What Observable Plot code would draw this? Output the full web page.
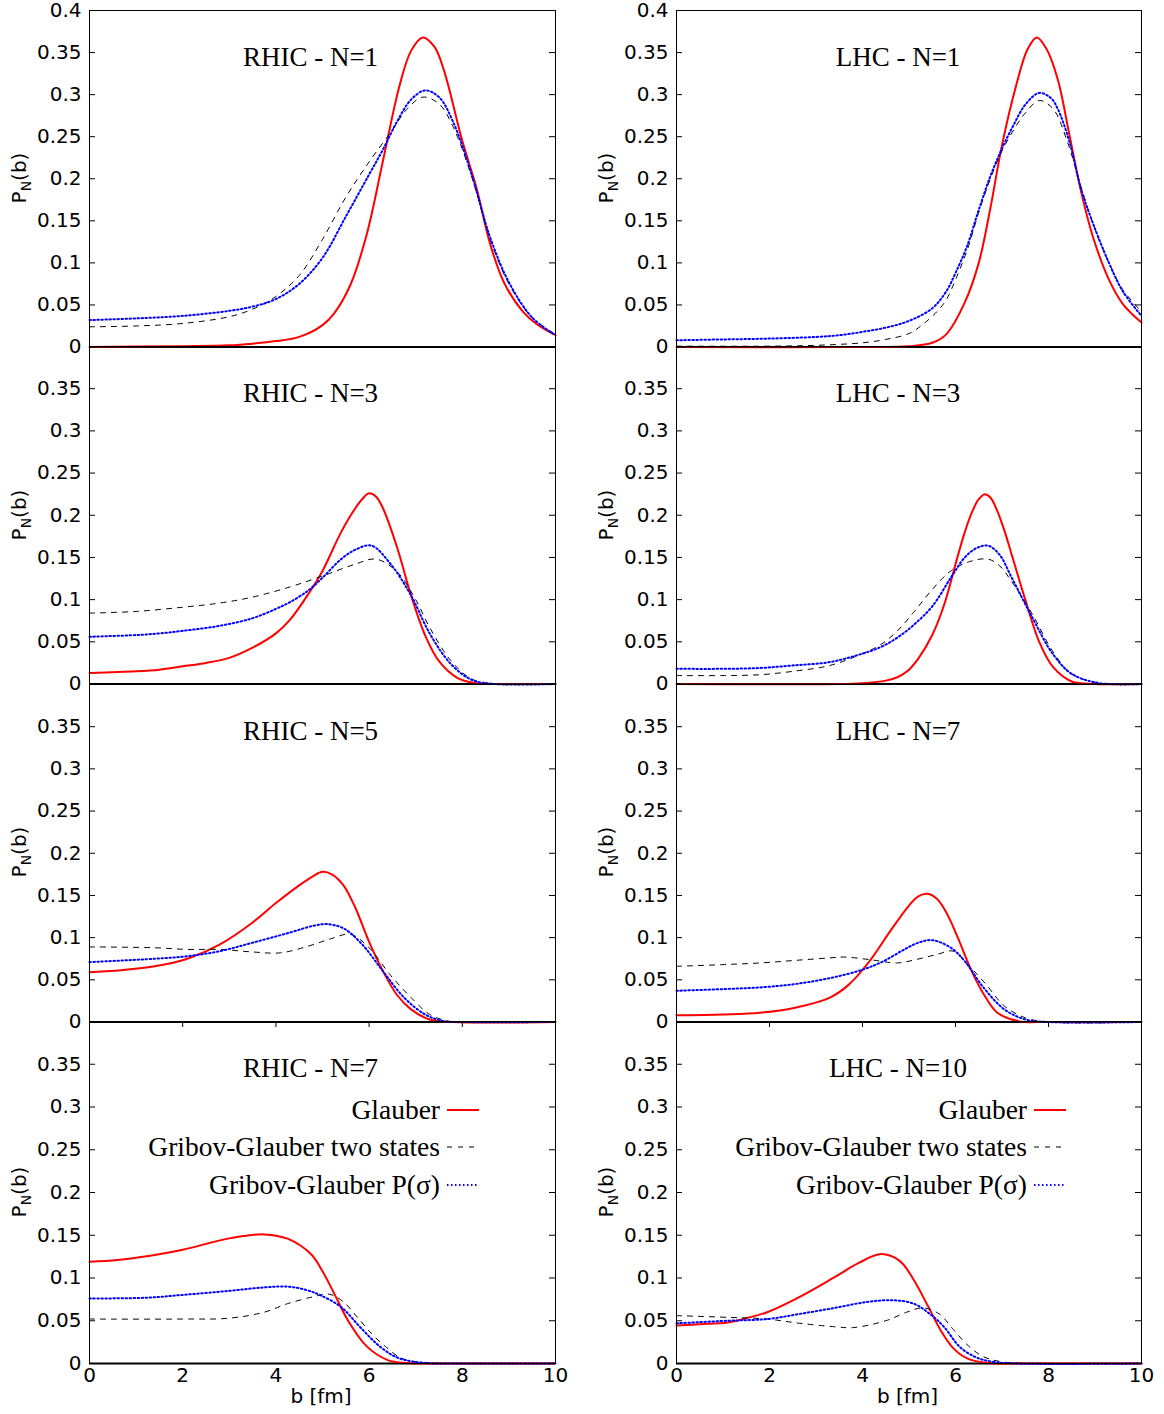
<!DOCTYPE html>
<html>
<head>
<meta charset="utf-8">
<script src="https://cdn.jsdelivr.net/npm/d3@7"></script>
<script src="https://cdn.jsdelivr.net/npm/@observablehq/plot@0.6"></script>
<style>
  body { margin: 0; background: #fff; }
  #chart { position: relative; width: 1164px; height: 1414px; overflow: hidden; background: #fff; }
  .panel { position: absolute; }
  .ylab { position: absolute; font-family: "DejaVu Sans", sans-serif; font-size: 20px; color: #000;
          transform: translate(-50%, -50%) rotate(-90deg); white-space: nowrap; line-height: 1; }
  .ylab sub { font-size: 14px; vertical-align: -5px; }
  .xlab { position: absolute; font-family: "DejaVu Sans", sans-serif; font-size: 20px; color: #000;
          transform: translate(-50%, -50%); white-space: nowrap; line-height: 1; }
  .leg { position: absolute; font-family: "Liberation Serif", serif; font-size: 27.5px; color: #000;
         white-space: nowrap; line-height: 1; transform: translate(-100%, -50%); }
  .legsw { position: absolute; transform: translateY(-50%); }
</style>
</head>
<body>
<div id="chart"></div>
<script>
// ---------------- data: [b (fm), P_N(b)] ----------------
const rhic1_glauber = [[0,0],[1,0.0005],[2,0.001],[3,0.002],[3.5,0.004],[4,0.007],[4.5,0.012],[5,0.026],[5.25,0.04],[5.6,0.074],[5.95,0.134],[6.3,0.222],[6.65,0.31],[6.9,0.352],[7.15,0.368],[7.4,0.357],[7.6,0.33],[8,0.245],[8.3,0.19],[8.6,0.122],[8.9,0.076],[9.3,0.042],[9.6,0.027],[10,0.014]];
const rhic1_two = [[0,0.024],[1,0.025],[2,0.028],[3,0.036],[3.5,0.045],[4,0.06],[4.5,0.085],[5,0.128],[5.5,0.178],[6,0.22],[6.5,0.258],[6.8,0.282],[7.15,0.297],[7.5,0.289],[7.8,0.262],[8.2,0.203],[8.6,0.128],[9,0.075],[9.5,0.035],[10,0.015]];
const rhic1_psig = [[0,0.032],[1,0.034],[2,0.037],[3,0.043],[3.5,0.048],[4,0.057],[4.5,0.075],[5,0.106],[5.5,0.155],[6,0.205],[6.3,0.235],[6.6,0.268],[6.9,0.294],[7.2,0.305],[7.5,0.297],[7.8,0.268],[8.2,0.205],[8.6,0.13],[9,0.077],[9.5,0.035],[10,0.014]];

const lhc1_glauber = [[0,0],[4,0],[5,0.001],[5.5,0.005],[5.8,0.015],[6.2,0.053],[6.5,0.1],[6.75,0.165],[7,0.24],[7.3,0.31],[7.55,0.354],[7.75,0.368],[7.95,0.355],[8.2,0.318],[8.45,0.252],[8.7,0.185],[8.95,0.132],[9.3,0.08],[9.6,0.051],[10,0.029]];
const lhc1_two = [[0,0.001],[2,0.001],[3,0.002],[4,0.005],[4.5,0.009],[5,0.016],[5.3,0.027],[5.6,0.042],[5.8,0.056],[6,0.08],[6.25,0.115],[6.5,0.16],[6.75,0.2],[7,0.233],[7.25,0.258],[7.5,0.278],[7.8,0.293],[8.1,0.283],[8.4,0.245],[8.7,0.19],[9,0.14],[9.3,0.1],[9.6,0.068],[10,0.042]];
const lhc1_psig = [[0,0.008],[1,0.009],[2,0.01],[3,0.012],[3.5,0.014],[4,0.018],[4.5,0.023],[5,0.031],[5.5,0.046],[5.8,0.066],[6,0.088],[6.25,0.12],[6.5,0.163],[6.75,0.203],[7,0.236],[7.25,0.264],[7.5,0.288],[7.8,0.302],[8.05,0.296],[8.2,0.283],[8.45,0.244],[8.7,0.188],[8.95,0.148],[9.3,0.1],[9.6,0.066],[10,0.037]];

const rhic3_glauber = [[0,0.013],[1,0.015],[1.5,0.017],[2,0.021],[2.5,0.025],[3,0.031],[3.5,0.043],[4,0.06],[4.3,0.076],[4.7,0.107],[5,0.134],[5.4,0.18],[5.7,0.208],[5.85,0.219],[6,0.226],[6.15,0.222],[6.3,0.208],[6.6,0.162],[6.9,0.105],[7.2,0.058],[7.5,0.027],[7.9,0.007],[8.3,0.001],[9,0],[10,0]];
const rhic3_two = [[0,0.084],[1,0.086],[2,0.091],[2.8,0.096],[3.5,0.103],[4.3,0.115],[5,0.128],[5.7,0.142],[6.15,0.148],[6.6,0.133],[7,0.1],[7.3,0.067],[7.75,0.028],[8.2,0.006],[8.7,0],[10,0]];
const rhic3_psig = [[0,0.056],[1,0.058],[1.5,0.06],[2,0.063],[2.8,0.069],[3.5,0.078],[4,0.089],[4.3,0.097],[4.7,0.111],[5,0.126],[5.4,0.148],[5.7,0.159],[6.05,0.164],[6.45,0.143],[6.9,0.105],[7.3,0.06],[7.75,0.024],[8.2,0.005],[8.7,0],[10,0]];

const lhc3_glauber = [[0,0],[3.5,0],[4,0.001],[4.5,0.004],[4.75,0.008],[5,0.017],[5.2,0.03],[5.5,0.058],[5.75,0.093],[6.05,0.152],[6.2,0.18],[6.35,0.203],[6.5,0.219],[6.63,0.225],[6.75,0.221],[6.9,0.205],[7.05,0.182],[7.2,0.155],[7.5,0.1],[7.8,0.05],[8.1,0.02],[8.5,0.003],[9,0],[10,0]];
const lhc3_two = [[0,0.01],[1,0.01],[1.8,0.011],[2.5,0.015],[3.3,0.022],[4,0.036],[4.4,0.047],[4.75,0.063],[5.1,0.085],[5.5,0.112],[5.9,0.134],[6.3,0.145],[6.7,0.148],[6.95,0.14],[7.2,0.122],[7.65,0.083],[8.1,0.038],[8.5,0.012],[9.1,0.001],[10,0]];
const lhc3_psig = [[0,0.018],[1,0.018],[1.8,0.019],[2.5,0.022],[3.3,0.026],[4,0.036],[4.4,0.044],[4.75,0.055],[5.1,0.07],[5.5,0.092],[5.9,0.126],[6.2,0.15],[6.45,0.161],[6.7,0.164],[6.95,0.153],[7.2,0.127],[7.65,0.079],[8.1,0.035],[8.5,0.012],[9.1,0.001],[10,0]];

const rhic5_glauber = [[0,0.059],[0.6,0.061],[1.4,0.066],[2.1,0.075],[2.8,0.092],[3.5,0.118],[4,0.141],[4.5,0.162],[4.8,0.173],[5,0.178],[5.2,0.175],[5.45,0.162],[5.7,0.136],[6,0.095],[6.3,0.06],[6.6,0.032],[6.9,0.015],[7.3,0.003],[7.8,0],[10,0]];
const rhic5_two = [[0,0.089],[1.4,0.088],[2.1,0.086],[2.8,0.086],[3.5,0.083],[4.1,0.082],[4.7,0.09],[5.2,0.099],[5.6,0.104],[6,0.088],[6.45,0.056],[6.9,0.029],[7.3,0.009],[7.7,0.001],[8,0],[10,0]];
const rhic5_psig = [[0,0.071],[1.4,0.075],[2.1,0.078],[2.8,0.084],[3.5,0.094],[4.3,0.106],[4.8,0.114],[5.1,0.116],[5.45,0.111],[5.85,0.092],[6.3,0.06],[6.75,0.029],[7.2,0.009],[7.6,0.001],[8,0],[10,0]];

const lhc7_glauber = [[0,0.008],[1,0.009],[1.8,0.011],[2.55,0.017],[3.3,0.029],[3.7,0.044],[4.15,0.072],[4.6,0.108],[5,0.138],[5.2,0.149],[5.4,0.152],[5.6,0.146],[5.8,0.13],[6.05,0.1],[6.35,0.06],[6.65,0.029],[6.9,0.011],[7.35,0.001],[8,0],[10,0]];
const lhc7_two = [[0,0.066],[1,0.068],[1.8,0.07],[2.55,0.073],[3.3,0.076],[3.6,0.077],[4.15,0.074],[4.75,0.07],[5.15,0.074],[5.6,0.08],[5.95,0.084],[6.3,0.066],[6.65,0.045],[7.05,0.019],[7.5,0.005],[8,0],[10,0]];
const lhc7_psig = [[0,0.037],[1,0.039],[1.8,0.041],[2.55,0.045],[3.3,0.052],[4,0.062],[4.45,0.072],[4.9,0.086],[5.2,0.094],[5.5,0.097],[5.9,0.088],[6.2,0.072],[6.6,0.041],[7.05,0.015],[7.5,0.003],[8,0],[10,0]];

const rhic7_glauber = [[0,0.119],[0.6,0.121],[1.3,0.126],[2,0.133],[2.8,0.144],[3.3,0.149],[3.75,0.151],[4.25,0.146],[4.75,0.128],[5,0.108],[5.25,0.082],[5.55,0.05],[5.95,0.02],[6.4,0.004],[6.8,0.0005],[7.5,0],[10,0]];
const rhic7_two = [[0,0.052],[2,0.052],[3,0.053],[3.75,0.06],[4.25,0.07],[4.8,0.078],[5.15,0.081],[5.45,0.072],[5.75,0.054],[6.05,0.035],[6.35,0.02],[6.7,0.006],[7.2,0.001],[8,0],[10,0]];
const rhic7_psig = [[0,0.076],[1.25,0.077],[1.95,0.08],[3,0.085],[3.75,0.089],[4.25,0.09],[4.65,0.086],[4.95,0.08],[5.4,0.066],[5.8,0.043],[6.25,0.019],[6.65,0.006],[7.25,0.0005],[8,0],[10,0]];

const lhc10_glauber = [[0,0.0445],[0.5,0.046],[1.1,0.048],[1.5,0.053],[1.95,0.06],[2.65,0.078],[3.4,0.101],[3.9,0.117],[4.4,0.128],[4.8,0.12],[5.1,0.098],[5.4,0.068],[5.7,0.037],[5.95,0.018],[6.25,0.006],[6.7,0.0005],[7.5,0],[10,0]];
const lhc10_two = [[0,0.056],[1.1,0.054],[1.95,0.052],[2.65,0.047],[3.4,0.043],[3.8,0.042],[4.5,0.05],[4.95,0.06],[5.3,0.065],[5.65,0.058],[5.95,0.04],[6.25,0.022],[6.6,0.008],[7,0.002],[7.5,0],[10,0]];
const lhc10_psig = [[0,0.047],[1.1,0.05],[1.95,0.052],[2.65,0.058],[3.4,0.065],[4.1,0.072],[4.65,0.074],[5.1,0.07],[5.45,0.058],[5.75,0.043],[6.1,0.019],[6.45,0.007],[6.8,0.002],[7.3,0],[10,0]];

const panelTitles = ["RHIC - N=1","LHC - N=1","RHIC - N=3","LHC - N=3","RHIC - N=5","LHC - N=7","RHIC - N=7","LHC - N=10"];
const panelSeries = [
  [rhic1_glauber, rhic1_two, rhic1_psig], [lhc1_glauber, lhc1_two, lhc1_psig],
  [rhic3_glauber, rhic3_two, rhic3_psig], [lhc3_glauber, lhc3_two, lhc3_psig],
  [rhic5_glauber, rhic5_two, rhic5_psig], [lhc7_glauber, lhc7_two, lhc7_psig],
  [rhic7_glauber, rhic7_two, rhic7_psig], [lhc10_glauber, lhc10_two, lhc10_psig]
];
const legendLabels = ["Glauber", "Gribov-Glauber two states", "Gribov-Glauber P(σ)"];
const yTicksTop = [0,0.05,0.1,0.15,0.2,0.25,0.3,0.35,0.4];
const yTicks = [0,0.05,0.1,0.15,0.2,0.25,0.3,0.35];
const xTicks = [0,2,4,6,8,10];

// ---------------- layout & styles ----------------
const colLeft = [0, 587];
const colW = [466, 465];
const rowTop = [9.5, 346, 683.5, 1021];
const rowBot = [346, 683.5, 1021, 1363];
const ML = 89, MR = 23, MT = 12;
const seriesStyle = [
  {stroke: "#ff0000", strokeWidth: 2},
  {stroke: "#000000", strokeWidth: 1, strokeDasharray: "5,6"},
  {stroke: "#0000ff", strokeWidth: 2, strokeDasharray: "1.5,2.5"}
];
const titleDx = [-12, -11];
const legendDy = [89, 126, 164];

const chart = document.getElementById("chart");

panelTitles.forEach((title, i) => {
  const c = i % 2, r = Math.floor(i / 2);
  const W = colW[c], H = rowBot[r] - rowTop[r];
  const MB = r === 3 ? 34 : 14;
  const [g, t, p] = panelSeries[i];
  const marks = [
    Plot.ruleY([0], {stroke: "#000", strokeWidth: 2}),
    Plot.line(g, {x: d => d[0], y: d => d[1], curve: "catmull-rom", ...seriesStyle[0]}),
    Plot.line(t, {x: d => d[0], y: d => d[1], curve: "catmull-rom", ...seriesStyle[1]}),
    Plot.line(p, {x: d => d[0], y: d => d[1], curve: "catmull-rom", ...seriesStyle[2]}),
    Plot.tickY(yTicks, {y: d => d, insetRight: W - 6, stroke: "#000"}),
    Plot.tickY(yTicks, {y: d => d, insetLeft: W - 6, stroke: "#000"}),
    Plot.frame({stroke: "#000", strokeWidth: 1}),
    Plot.axisY(r === 0 ? yTicksTop : yTicks, {anchor: "left", tickSize: 0, tickPadding: 8, label: null,
      tickFormat: d => String(d), fill: "#000", fontSize: 20}),
    Plot.text([title], {text: d => d, frameAnchor: "top", dx: titleDx[c], dy: 47, lineAnchor: "middle",
      fontFamily: "Liberation Serif, serif", fontSize: 27, fill: "#000"})
  ];
  if (r === 3) {
    marks.push(Plot.tickX(xTicks.slice(1, -1), {x: d => d, insetBottom: H - 6, stroke: "#000"}));
    marks.push(Plot.axisX(xTicks, {anchor: "bottom", tickSize: 0, tickPadding: 4, label: null,
      tickFormat: d => String(d), fill: "#000", fontSize: 20}));
  }
  const svg = Plot.plot({
    width: ML + W + MR, height: MT + H + MB,
    marginLeft: ML, marginRight: MR, marginTop: MT, marginBottom: MB,
    style: {fontFamily: '"DejaVu Sans", sans-serif', fontSize: "20px", background: "transparent", overflow: "visible", color: "#000"},
    x: {domain: [0, 10], axis: null},
    y: {domain: [0, 0.4], axis: null},
    marks
  });
  const wrap = document.createElement("div");
  wrap.className = "panel";
  wrap.style.left = colLeft[c] + "px";
  wrap.style.top = (rowTop[r] - MT) + "px";
  wrap.appendChild(svg);
  chart.appendChild(wrap);

  // y-axis label
  const yl = document.createElement("div");
  yl.className = "ylab";
  yl.innerHTML = "P<sub>N</sub>(b)";
  yl.style.left = (colLeft[c] + 21) + "px";
  yl.style.top = ((rowTop[r] + rowBot[r]) / 2) + "px";
  chart.appendChild(yl);

  if (r === 3) {
    const xl = document.createElement("div");
    xl.className = "xlab";
    xl.textContent = "b [fm]";
    xl.style.left = (colLeft[c] + ML + W / 2 - 1) + "px";
    xl.style.top = "1396px";
    chart.appendChild(xl);

    legendLabels.forEach((lab, k) => {
      const y = rowTop[r] + legendDy[k];
      const tx = document.createElement("div");
      tx.className = "leg";
      tx.textContent = lab;
      tx.style.left = (colLeft[c] + ML + 351) + "px";
      tx.style.top = y + "px";
      chart.appendChild(tx);
      const s = seriesStyle[k];
      const sw = document.createElement("div");
      sw.className = "legsw";
      sw.style.left = (colLeft[c] + ML + 358) + "px";
      sw.style.top = y + "px";
      sw.innerHTML = `<svg width="32" height="6" style="display:block"><line x1="0" y1="3" x2="32" y2="3" stroke="${s.stroke}" stroke-width="${s.strokeWidth}" ${s.strokeDasharray ? `stroke-dasharray="${s.strokeDasharray}"` : ""}/></svg>`;
      chart.appendChild(sw);
    });
  }
});
</script>
</body>
</html>
